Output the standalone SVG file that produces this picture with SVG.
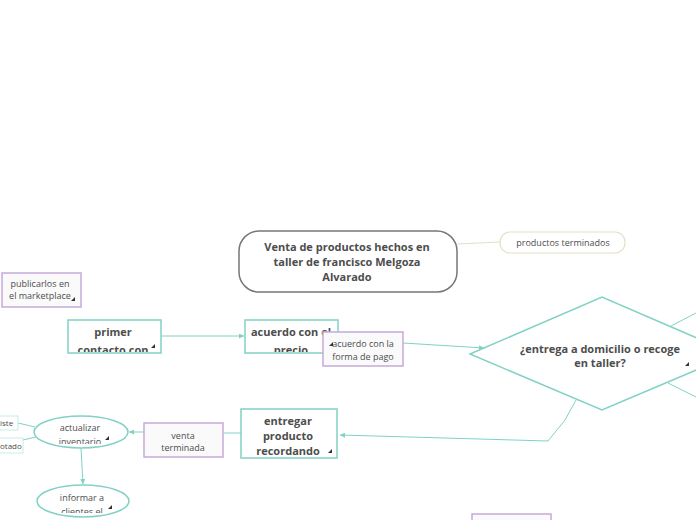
<svg xmlns="http://www.w3.org/2000/svg" width="696" height="520" viewBox="0 0 696 520">
<defs>
<style>
.t{font-family:"Open Sans","Noto Sans",sans-serif;fill:#4d4d4d;text-anchor:middle}
.b{font-weight:bold;font-size:11px}
.r{font-size:9px}
.teal{fill:#fff;stroke:#82d1c5;stroke-width:1.5}
.pur{fill:#fafafa;stroke:#c6a9d9;stroke-width:1.5}
.c{fill:none;stroke:#82d1c5;stroke-width:1}
.m{fill:#333}
</style>
<marker id="ah" viewBox="0 0 6 6" refX="6" refY="3" markerWidth="5" markerHeight="5" orient="auto">
<path d="M0,0L6,3L0,6z" fill="#82d1c5"/>
</marker>
<clipPath id="c1"><rect x="68" y="320" width="93" height="32"/></clipPath>
<clipPath id="c2"><rect x="245" y="320" width="93" height="32"/></clipPath>
<clipPath id="c3"><rect x="34" y="416" width="94" height="28"/></clipPath>
<clipPath id="c4"><rect x="37" y="485" width="94" height="28"/></clipPath>
</defs>
<rect width="696" height="520" fill="#fff"/>
<g id="connectors">
<path d="M457,244L500,242" fill="none" stroke="#e3dfc4" stroke-width="1"/>
<path class="c" d="M161,336L244,336" marker-end="url(#ah)"/>
<path class="c" d="M403,343L484,348" marker-end="url(#ah)"/>
<path class="c" d="M576,400L565,420L548,441L340,435" marker-end="url(#ah)"/>
<path class="c" d="M241,433L224,433"/>
<path class="c" d="M144,432L129,432" marker-end="url(#ah)"/>
<path class="c" d="M81,448L83,484" marker-end="url(#ah)"/>
<path class="c" d="M35,427L18,423"/>
<path class="c" d="M36,437L23,440"/>
<path class="c" d="M671,326L696,313"/>
<path class="c" d="M668,383L696,397"/>
</g>
<g id="n-central">
<rect x="239" y="231" width="218" height="61" rx="20" fill="#fff" stroke="#777" stroke-width="1.5"/>
<text class="t b" x="347" y="251">Venta de productos hechos en</text>
<text class="t b" x="347" y="266">taller de francisco Melgoza</text>
<text class="t b" x="347" y="281">Alvarado</text>
</g>
<g id="n-terminados">
<rect x="500" y="232" width="125" height="21" rx="10" fill="#fff" stroke="#e3dfc4" stroke-width="1.2"/>
<text class="t r" x="563" y="246">productos terminados</text>
</g>
<g id="n-publicar">
<rect class="pur" x="2" y="273" width="79" height="34"/>
<text class="t r" x="40" y="287">publicarlos en</text>
<text class="t r" x="40" y="299">el marketplace</text>
<path class="m" d="M75,297L75,301L71,301z"/>
</g>
<g id="n-primer">
<rect class="teal" x="68" y="320" width="93" height="33"/>
<g clip-path="url(#c1)">
<text class="t b" x="113" y="336">primer</text>
<text class="t b" x="113" y="354">contacto con</text>
</g>
<path class="m" d="M155,344L155,348L151,348z"/>
</g>
<g id="n-precio">
<rect class="teal" x="245" y="320" width="93" height="33"/>
<g clip-path="url(#c2)">
<text class="t b" x="291" y="336">acuerdo con el</text>
<text class="t b" x="291" y="354">precio</text>
</g>
<path class="m" d="M332,344L332,348L328,348z"/>
</g>
<g id="n-pago">
<rect class="pur" x="323" y="332" width="80" height="34"/>
<text class="t r" x="363" y="347">acuerdo con la</text>
<text class="t r" x="363" y="360">forma de pago</text>
<path class="m" d="M333,342L333,346L329,346z"/>
</g>
<g id="n-entrega">
<path d="M470,354L602,297L734,354L602,410z" fill="#fff" stroke="#82d1c5" stroke-width="1.5"/>
<text class="t b" x="600" y="353">¿entrega a domicilio o recoge</text>
<text class="t b" x="600" y="367">en taller?</text>
<path class="m" d="M689,362L689,366L685,366z"/>
</g>
<g id="n-entregar">
<rect class="teal" x="241" y="409" width="96" height="49"/>
<text class="t b" x="288" y="425">entregar</text>
<text class="t b" x="288" y="440">producto</text>
<text class="t b" x="288" y="455">recordando</text>
<path class="m" d="M332,449L332,453L328,453z"/>
</g>
<g id="n-venta">
<rect class="pur" x="144" y="423" width="79" height="34"/>
<text class="t r" x="183" y="439">venta</text>
<text class="t r" x="183" y="451">terminada</text>
</g>
<g id="n-actualizar">
<ellipse cx="81" cy="432" rx="47" ry="16" fill="#fff" stroke="#82d1c5" stroke-width="1.5"/>
<g clip-path="url(#c3)">
<text class="t r" x="80" y="431">actualizar</text>
<text class="t r" x="80" y="445">inventario</text>
</g>
<path class="m" d="M109,436L109,440L105,440z"/>
</g>
<g id="n-iste">
<rect x="-12" y="416" width="30" height="14" fill="#fff" stroke="#c8ece6" stroke-width="1"/>
<text class="t" x="0" y="426" style="font-size:8px;text-anchor:start">iste</text>
</g>
<g id="n-otado">
<rect x="-12" y="438" width="35" height="15" fill="#fff" stroke="#c8ece6" stroke-width="1"/>
<text class="t" x="0" y="449" style="font-size:8px;text-anchor:start">otado</text>
</g>
<g id="n-informar">
<ellipse cx="83" cy="501" rx="46" ry="16" fill="#fff" stroke="#82d1c5" stroke-width="1.5"/>
<g clip-path="url(#c4)">
<text class="t r" x="82" y="501">informar a</text>
<text class="t r" x="82" y="515">clientes el</text>
</g>
<path class="m" d="M112,505L112,509L108,509z"/>
</g>
<g id="n-bottom">
<rect class="pur" x="472" y="514" width="79" height="20"/>
</g>
</svg>
